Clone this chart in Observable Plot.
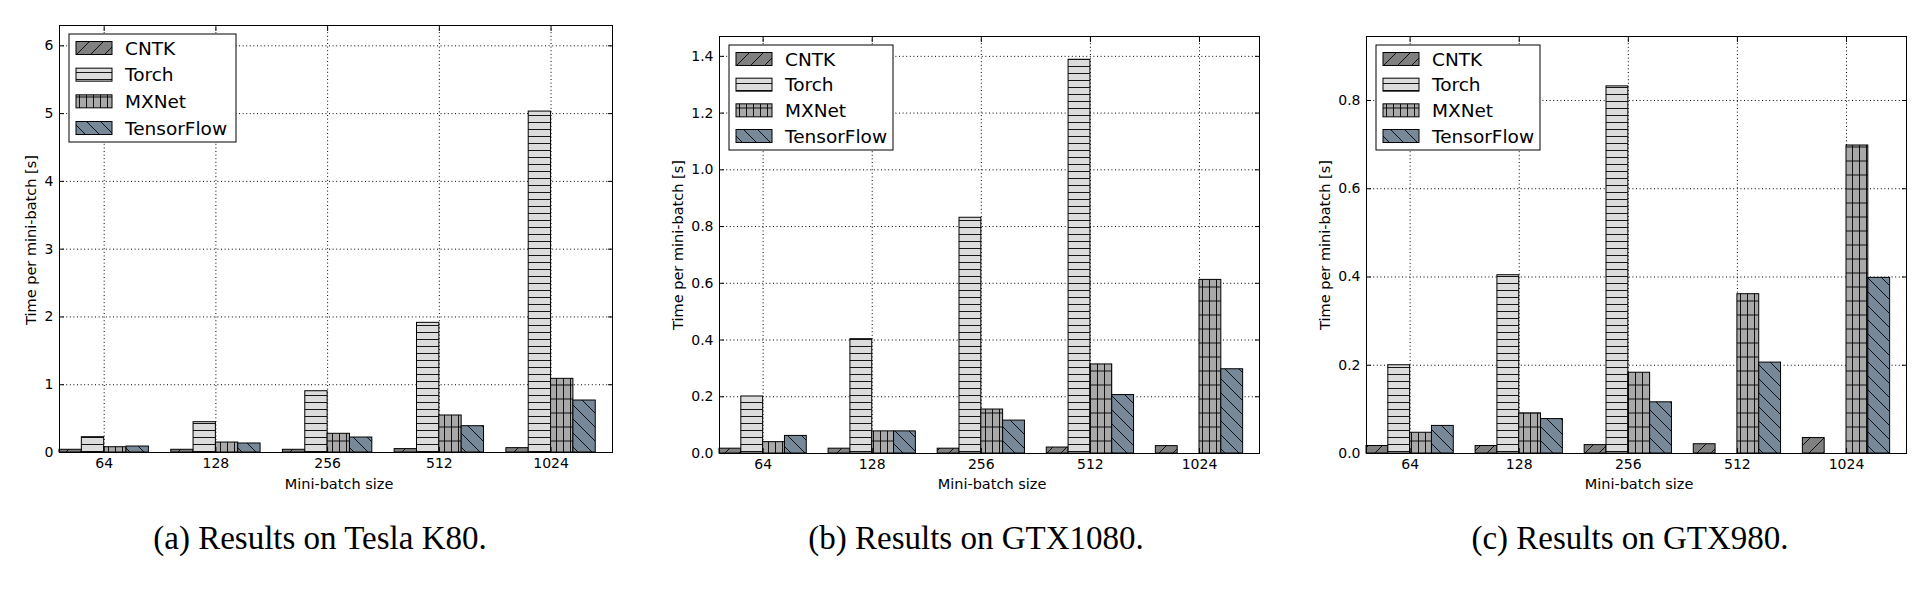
<!DOCTYPE html>
<html><head><meta charset="utf-8">
<script src="https://cdn.jsdelivr.net/npm/d3@7"></script>
<script src="https://cdn.jsdelivr.net/npm/@observablehq/plot@0.6"></script>
<style>
html,body{margin:0;padding:0;background:#fff;}
#root{position:relative;width:1930px;height:590px;overflow:hidden;background:#fff;}
.panel{position:absolute;top:0;}
.panel svg{display:block;max-width:none;}
.lbl{position:absolute;transform:translate(-50%,-50%);white-space:nowrap;font-family:"DejaVu Sans",sans-serif;font-size:14.5px;color:#000;line-height:1;z-index:2;}
.ylbl{transform:translate(-50%,-50%) rotate(-90deg);}
.cap{position:absolute;transform:translate(-50%,-50%);white-space:nowrap;font-family:"Liberation Serif","Times New Roman",serif;font-size:33px;color:#000;line-height:1;z-index:2;}
</style></head>
<body>
<svg width="0" height="0" style="position:absolute;left:0;top:0">
 <defs>
  <pattern id="h-cntk" patternUnits="userSpaceOnUse" width="14" height="14">
   <rect width="14" height="14" fill="#808080"/>
   <path d="M-1,1 L1,-1 M0,14 L14,0 M13,15 L15,13" stroke="#000" stroke-width="0.9"/>
  </pattern>
  <pattern id="h-torch" patternUnits="userSpaceOnUse" width="7" height="7">
   <rect width="7" height="7" fill="#dcdcdc"/>
   <path d="M0,3.5 H7" stroke="#000" stroke-width="0.9"/>
  </pattern>
  <pattern id="h-mxnet" patternUnits="userSpaceOnUse" width="7" height="14">
   <rect width="7" height="14" fill="#a9a9a9"/>
   <path d="M0,7 H7 M3.5,0 V14" stroke="#000" stroke-width="0.9"/>
  </pattern>
  <pattern id="h-tf" patternUnits="userSpaceOnUse" width="14" height="14">
   <rect width="14" height="14" fill="#778899"/>
   <path d="M-1,13 L1,15 M0,0 L14,14 M13,-1 L15,1" stroke="#000" stroke-width="0.9"/>
  </pattern>
 </defs>
</svg>
<div id="root"></div>
<script>
// ---------- data ----------
const batchSizes = ["64", "128", "256", "512", "1024"];
const frameworks = ["CNTK", "Torch", "MXNet", "TensorFlow"];

const k80_CNTK       = [0.040, 0.040, 0.040, 0.050, 0.064];
const k80_Torch      = [0.226, 0.447, 0.904, 1.913, 5.030];
const k80_MXNet      = [0.078, 0.147, 0.276, 0.546, 1.087];
const k80_TensorFlow = [0.088, 0.133, 0.221, 0.388, 0.767];

const gtx1080_CNTK       = [0.017, 0.017, 0.017, 0.021, 0.026];
const gtx1080_Torch      = [0.201, 0.403, 0.831, 1.388, null];
const gtx1080_MXNet      = [0.040, 0.078, 0.155, 0.314, 0.612];
const gtx1080_TensorFlow = [0.062, 0.078, 0.116, 0.206, 0.297];

const gtx980_CNTK       = [0.017, 0.017, 0.019, 0.021, 0.035];
const gtx980_Torch      = [0.200, 0.404, 0.832, null, null];
const gtx980_MXNet      = [0.047, 0.091, 0.183, 0.361, 0.698];
const gtx980_TensorFlow = [0.0625, 0.078, 0.116, 0.206, 0.398];

const k80Ticks     = [0, 1, 2, 3, 4, 5, 6];
const gtx1080Ticks = [0.0, 0.2, 0.4, 0.6, 0.8, 1.0, 1.2, 1.4];
const gtx980Ticks  = [0.0, 0.2, 0.4, 0.6, 0.8];

const captions = ["(a) Results on Tesla K80.", "(b) Results on GTX1080.", "(c) Results on GTX980."];
const xLabel = "Mini-batch size";
const yLabel = "Time per mini-batch [s]";

// ---------- styling / layout ----------
const patternIds = ["h-cntk", "h-torch", "h-mxnet", "h-tf"];
const barW = 0.2;
const xMax = 4.95;

const panels = [
  {left: 0,    width: 660, height: 475, mL: 59, mR: 48, mT: 25, mB: 23, yMax: 6.3,
   ticks: k80Ticks, fmt: d3.format("d"), series: [k80_CNTK, k80_Torch, k80_MXNet, k80_TensorFlow],
   caption: captions[0], capX: 320, xlX: 339, ylX: 31, ylY: 240, lgW: 167, lgH: 108},
  {left: 660,  width: 650, height: 475, mL: 59, mR: 51, mT: 36, mB: 22, yMax: 1.47,
   ticks: gtx1080Ticks, fmt: d3.format(".1f"), series: [gtx1080_CNTK, gtx1080_Torch, gtx1080_MXNet, gtx1080_TensorFlow],
   caption: captions[1], capX: 976, xlX: 992, ylX: 678, ylY: 245, lgW: 164, lgH: 105},
  {left: 1310, width: 620, height: 475, mL: 56, mR: 24, mT: 36, mB: 22, yMax: 0.945,
   ticks: gtx980Ticks, fmt: d3.format(".1f"), series: [gtx980_CNTK, gtx980_Torch, gtx980_MXNet, gtx980_TensorFlow],
   caption: captions[2], capX: 1630, xlX: 1639, ylX: 1325, ylY: 245, lgW: 164, lgH: 105}
];

const root = document.getElementById("root");
const groupTicks = batchSizes.map((_, i) => i + 2 * barW);
const gridStyle = {stroke: "#000", strokeOpacity: 1, strokeWidth: 1, strokeDasharray: "1,2.6"};

panels.forEach(p => {
  const rows = [];
  frameworks.forEach((f, s) => p.series[s].forEach((v, g) => {
    if (v != null) rows.push({g, s, f, v});
  }));

  const barMarks = frameworks.map((f, s) =>
    Plot.rect(rows.filter(d => d.s === s), {
      x1: d => d.g + d.s * barW,
      x2: d => d.g + (d.s + 1) * barW,
      y1: d => 0,
      y2: "v",
      fill: `url(#${patternIds[s]})`,
      stroke: "#000",
      strokeWidth: 1
    })
  );

  const svg = Plot.plot({
    width: p.width, height: p.height,
    marginLeft: p.mL, marginRight: p.mR, marginTop: p.mT, marginBottom: p.mB,
    style: {fontFamily: "DejaVu Sans, sans-serif", fontSize: "14px", background: "transparent", overflow: "visible"},
    x: {domain: [0, xMax], label: null},
    y: {domain: [0, p.yMax], label: null},
    marks: [
      Plot.gridY(p.ticks, gridStyle),
      Plot.gridX(groupTicks, gridStyle),
      ...barMarks,
      // labels
      Plot.axisY(p.ticks, {anchor: "left", tickSize: 0, tickPadding: 6, tickFormat: p.fmt, fontSize: 14, label: null}),
      Plot.axisX(groupTicks, {anchor: "bottom", tickSize: 0, tickPadding: 6, tickFormat: d => batchSizes[Math.round(d - 2 * barW)], fontSize: 14, label: null}),
      // inward ticks on all four sides
      Plot.axisY(p.ticks, {anchor: "left", tickSize: 5, dx: 5, fill: "none", label: null}),
      Plot.axisY(p.ticks, {anchor: "right", tickSize: 5, dx: -5, fill: "none", label: null}),
      Plot.axisX(groupTicks, {anchor: "bottom", tickSize: 5, dy: -5, fill: "none", label: null}),
      Plot.axisX(groupTicks, {anchor: "top", tickSize: 5, dy: 5, fill: "none", label: null}),
      Plot.frame({stroke: "#000", strokeWidth: 1})
    ]
  });

  // legend (upper left)
  const lg = d3.select(svg).append("g")
    .attr("transform", `translate(${p.mL + 10},${p.mT + 9})`);
  lg.append("rect").attr("width", p.lgW).attr("height", p.lgH)
    .attr("fill", "#fff").attr("stroke", "#000").attr("stroke-width", 1);
  const step = (p.lgH - 28) / 3;
  frameworks.forEach((f, i) => {
    const cy = 14 + i * step;
    lg.append("rect").attr("x", 7).attr("y", cy - 6.5).attr("width", 36).attr("height", 13)
      .attr("fill", `url(#${patternIds[i]})`).attr("stroke", "#000").attr("stroke-width", 1);
    lg.append("text").attr("x", 56).attr("y", cy).attr("dy", "0.36em")
      .attr("text-anchor", "start")
      .attr("font-family", "DejaVu Sans, sans-serif").attr("font-size", 18.5).attr("fill", "#000")
      .text(f);
  });

  const holder = document.createElement("div");
  holder.className = "panel";
  holder.style.left = p.left + "px";
  holder.appendChild(svg);
  root.appendChild(holder);

  const xl = document.createElement("div");
  xl.className = "lbl"; xl.textContent = xLabel;
  xl.style.left = p.xlX + "px"; xl.style.top = "484px";
  root.appendChild(xl);

  const yl = document.createElement("div");
  yl.className = "lbl ylbl"; yl.textContent = yLabel;
  yl.style.left = p.ylX + "px"; yl.style.top = p.ylY + "px";
  root.appendChild(yl);

  const cap = document.createElement("div");
  cap.className = "cap"; cap.textContent = p.caption;
  cap.style.left = p.capX + "px"; cap.style.top = "538px";
  root.appendChild(cap);
});
</script>
</body></html>
